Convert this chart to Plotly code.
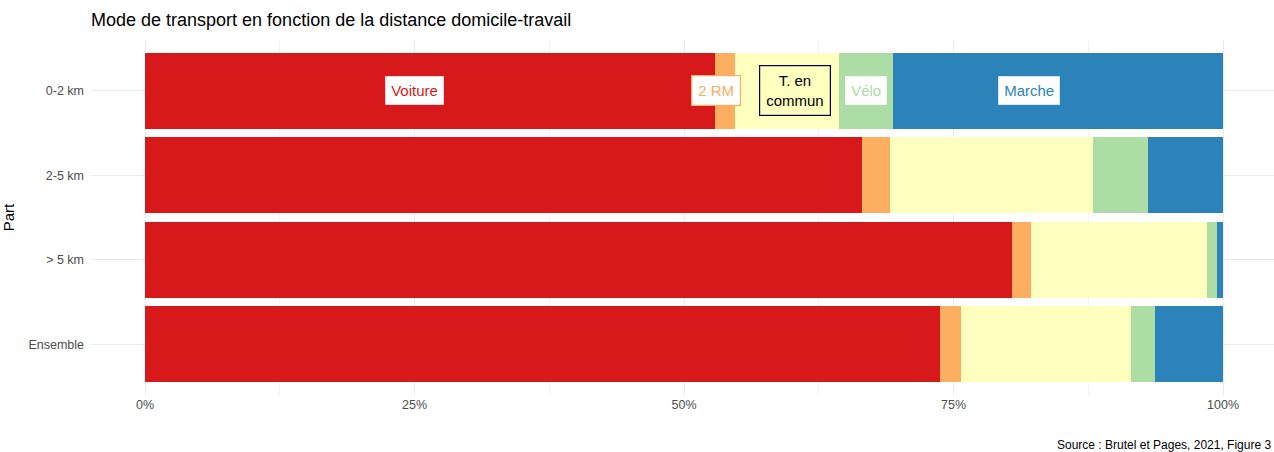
import plotly.graph_objects as go

categories = ["0-2 km", "2-5 km", "> 5 km", "Ensemble"]
modes = ["Voiture", "2 RM", "T. en commun", "Vélo", "Marche"]
values = {
    "Voiture":      [52.9, 66.5, 80.4, 73.7],
    "2 RM":         [1.8, 2.6, 1.8, 2.0],
    "T. en commun": [9.7, 18.8, 16.3, 15.8],
    "Vélo":         [5.0, 5.1, 0.9, 2.2],
    "Marche":       [30.6, 7.0, 0.6, 6.3],
}
colors = {
    "Voiture": "#D7191C",
    "2 RM": "#FDAE61",
    "T. en commun": "#FFFFBF",
    "Vélo": "#ABDDA4",
    "Marche": "#2B83BA",
}
label_text = ["Voiture", "2 RM", "T. en<br>commun", "Vélo", "Marche"]
label_x = [25.0, 53.0, 60.3, 66.9, 82.0]
x_ticks = [0, 25, 50, 75, 100]
x_tick_text = ["0%", "25%", "50%", "75%", "100%"]

fig = go.Figure()
for m in modes:
    fig.add_trace(go.Bar(
        y=categories, x=values[m], orientation="h", name=m,
        marker=dict(color=colors[m], line=dict(width=0)),
        showlegend=False,
    ))

for m, t, xpos in zip(modes, label_text, label_x):
    is_tc = m == "T. en commun"
    fig.add_annotation(
        x=xpos, y=categories[0], text=t, showarrow=False,
        font=dict(size=15, color="black" if is_tc else colors[m],
                  family="Liberation Sans, Arial, sans-serif"),
        bgcolor=colors[m] if is_tc else "white",
        bordercolor="black" if is_tc else colors[m],
        borderwidth=1.2, borderpad=6,
    )

fig.update_layout(
    width=1274, height=452,
    barmode="stack", bargap=0.1,
    plot_bgcolor="white", paper_bgcolor="white",
    margin=dict(l=91, r=0, t=40, b=57, autoexpand=False),
    font=dict(family="Liberation Sans, Arial, sans-serif", color="#4d4d4d", size=12),
    title=dict(text="Mode de transport en fonction de la distance domicile-travail",
               x=91/1274, xanchor="left", y=1-20/452, yanchor="middle",
               font=dict(size=18, color="black")),
    xaxis=dict(range=[-5.01, 104.73], tickvals=x_ticks, ticktext=x_tick_text,
               automargin=False,
               showgrid=True, gridcolor="#ebebeb", gridwidth=1,
               minor=dict(tickvals=[12.5, 37.5, 62.5, 87.5], showgrid=True,
                          gridcolor="#f4f4f4", gridwidth=0.6),
               zeroline=False, showline=False, ticks="", tickfont=dict(size=12.5, color="#4d4d4d")),
    yaxis=dict(categoryorder="array", categoryarray=categories, autorange=False,
               automargin=False,
               range=[3.6, -0.6], showgrid=True, gridcolor="#ebebeb", gridwidth=1,
               zeroline=False, ticks="", ticklabelstandoff=6,
               title=dict(text="Part", font=dict(size=15, color="black"), standoff=14),
               tickfont=dict(size=12.5, color="#4d4d4d")),
)
fig.add_annotation(
    x=1, xref="paper", y=-56/395, yref="paper", xanchor="right", yanchor="middle",
    text="Source : Brutel et Pages, 2021, Figure 3", showarrow=False,
    font=dict(size=12, color="black"), xshift=-1,
)

fig.write_html("out.html", config={"displayModeBar": False},
               post_script="document.body.style.margin='0';document.body.style.overflow='hidden';")
